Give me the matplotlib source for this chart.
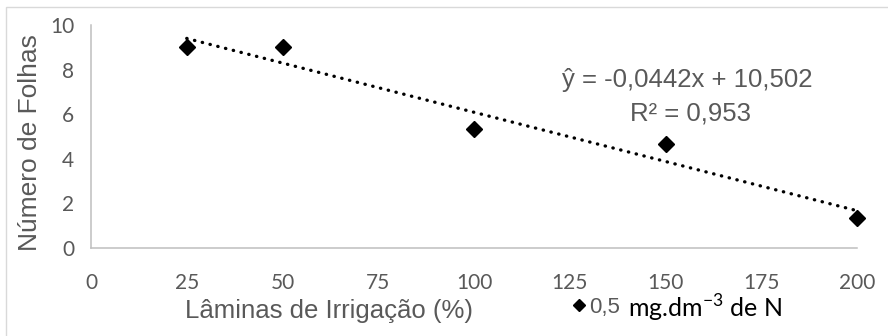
import matplotlib.pyplot as plt
import numpy as np
from matplotlib.lines import Line2D
from matplotlib.patches import Rectangle

plt.rcParams["mathtext.fontset"] = "custom"
plt.rcParams["mathtext.rm"] = "Lato"

# data
laminas = np.array([25, 50, 100, 150, 200])
folhas = np.array([9.0, 9.0, 5.333, 4.667, 1.333])
x_ticks = [0, 25, 50, 75, 100, 125, 150, 175, 200]
y_ticks = [0, 2, 4, 6, 8, 10]
equation = "ŷ = -0,0442x + 10,502"
r_squared = "R² = 0,953"

GRAY = "#595959"
AXIS_GRAY = "#BFBFBF"
ARIAL = "Liberation Sans"
CALIBRI = "Lato"

fig = plt.figure(figsize=(8.88, 3.36), dpi=100)
ax = fig.add_axes([91 / 888, 1 - 248 / 336, 766 / 888, 223 / 336])

# outer chart frame (cropped on right and bottom like the source)
fig.add_artist(Rectangle((6 / 888, -0.1), 1.2, 1.1 - 7 / 336,
                         transform=fig.transFigure, fill=False,
                         edgecolor="#D9D9D9", lw=1))

ax.plot(laminas, folhas, linestyle="none", marker="D", markersize=8,
        color="black", zorder=3, clip_on=False)

# linear trendline
slope, intercept = np.polyfit(laminas, folhas, 1)
xt = np.array([laminas.min(), laminas.max()])
ax.plot(xt, slope * xt + intercept, color="black", lw=2.4,
        linestyle=(0, (0.1, 2.3)), dash_capstyle="round", zorder=2)

ax.set_xlim(0, 200)
ax.set_ylim(0, 10)
ax.set_xticks(x_ticks)
ax.set_yticks(y_ticks)
ax.tick_params(length=0, colors=GRAY, labelsize=15)
ax.tick_params(axis="x", pad=18)
ax.tick_params(axis="y", pad=12)
for lab in ax.get_xticklabels() + ax.get_yticklabels():
    lab.set_fontfamily(CALIBRI)

for side in ["top", "right"]:
    ax.spines[side].set_visible(False)
for side in ["left", "bottom"]:
    ax.spines[side].set_color(AXIS_GRAY)
    ax.spines[side].set_linewidth(1.1)

ax.set_ylabel("Número de Folhas", fontsize=19, family=ARIAL, color=GRAY,
              va="center")
ax.yaxis.set_label_coords(-0.0796, 0.475)
ax.set_xlabel("Lâminas de Irrigação (%)", fontsize=18.5, family=ARIAL,
              color=GRAY, va="center")
ax.xaxis.set_label_coords(0.311, -0.283)

ax.text(0.778, 0.753, equation, transform=ax.transAxes, ha="center",
        va="center", fontsize=18.5, family=ARIAL, color=GRAY)
ax.text(0.782, 0.601, r_squared, transform=ax.transAxes, ha="center",
        va="center", fontsize=18.5, family=ARIAL, color=GRAY)

# legend: marker + "0,5", then the unit text in black
handle = Line2D([], [], linestyle="none", marker="D", markersize=6.5,
                color="black")
ax.legend([handle], ["0,5"], loc="center left",
          bbox_to_anchor=(561 / 888, 1 - 307 / 336),
          bbox_transform=fig.transFigure, frameon=False, borderpad=0,
          handlelength=0.6, handletextpad=0.15,
          prop={"family": ARIAL, "size": 16}, labelcolor=GRAY)
fig.text(628 / 888, 1 - 318 / 336, r"mg.dm$^{\mathrm{-3}}$ de N",
         fontsize=18, family=CALIBRI, color="black", va="baseline")

fig.savefig("out.png", dpi=100)
